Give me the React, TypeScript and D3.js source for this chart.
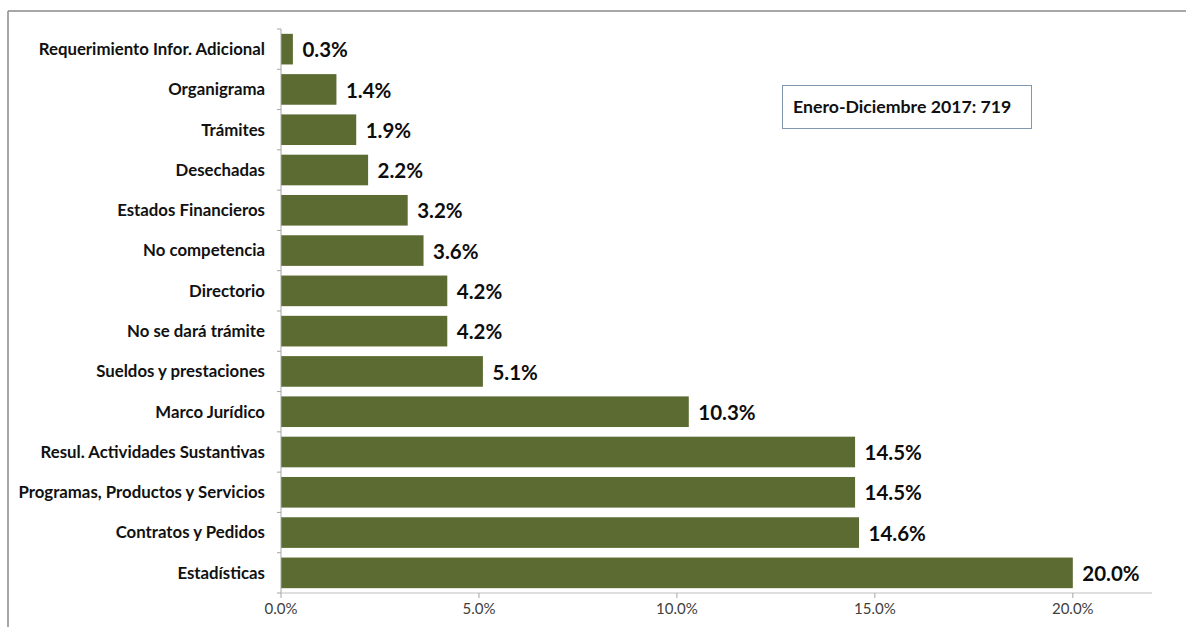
import React from "react";
import * as d3 from "d3";

const categories = [
  "Requerimiento Infor. Adicional",
  "Organigrama",
  "Trámites",
  "Desechadas",
  "Estados Financieros",
  "No competencia",
  "Directorio",
  "No se dará trámite",
  "Sueldos y prestaciones",
  "Marco Jurídico",
  "Resul. Actividades Sustantivas",
  "Programas, Productos y Servicios",
  "Contratos y Pedidos",
  "Estadísticas",
];
const values = [0.3, 1.4, 1.9, 2.2, 3.2, 3.6, 4.2, 4.2, 5.1, 10.3, 14.5, 14.5, 14.6, 20.0];
const xTicks = [0, 5, 10, 15, 20];
const legendText = "Enero-Diciembre 2017: 719";

export default function App() {
  const W = 1186, H = 627;
  const x = d3.scaleLinear().domain([0, 22]).range([281, 1152]);
  const y = d3.scaleBand().domain(categories).range([29, 593]).paddingInner(0.24).paddingOuter(0.12);
  const font = "Lato, 'Open Sans', sans-serif";
  const bounds = d3.range(categories.length + 1).map((i) => 29 + (i * (593 - 29)) / categories.length);
  return (
    <svg width={W} height={H} style={{ position: "absolute", left: 0, top: 0 }} fontFamily={font}>
      <rect x={0} y={0} width={W} height={H} fill="#fff" />
      <line x1={8} y1={11} x2={W} y2={11} stroke="#8a8a8a" strokeWidth={1.5} />
      <line x1={8} y1={11} x2={8} y2={H} stroke="#8a8a8a" strokeWidth={1.5} />
      {categories.map((c, i) => (
        <g key={c}>
          <rect x={x(0)} y={y(c)!} width={x(values[i]) - x(0)} height={y.bandwidth()} fill="#5b6b31" />
          <text x={265} y={y(c)! + y.bandwidth() / 2} dy="0.35em" textAnchor="end" fontSize={16.8} fontWeight="bold" fill="#111">
            {c}
          </text>
          <text x={x(values[i]) + 9.5} y={y(c)! + y.bandwidth() / 2 + 1} dy="0.35em" fontSize={20.5} fontWeight="bold" fill="#0d0d0d">
            {d3.format(".1f")(values[i]) + "%"}
          </text>
        </g>
      ))}
      {bounds.map((b, i) => (
        <line key={"yt" + i} x1={277} x2={281} y1={b} y2={b} stroke="#a6a6a6" />
      ))}
      <line x1={281} x2={281} y1={29} y2={593} stroke="#a6a6a6" />
      <line x1={281} x2={1152} y1={593} y2={593} stroke="#bfbfbf" strokeWidth={1.2} />
      {xTicks.map((t) => (
        <g key={t}>
          <line x1={x(t)} x2={x(t)} y1={593} y2={598} stroke="#a6a6a6" />
          <text x={x(t)} y={609} dy="0.35em" textAnchor="middle" fontSize={15} fill="#404040">
            {d3.format(".1f")(t) + "%"}
          </text>
        </g>
      ))}
      <rect x={782.5} y={85.5} width={249} height={43} fill="#fff" stroke="#7f97b0" />
      <text x={793} y={107} dy="0.35em" fontSize={17.7} fontWeight="bold" fill="#111">
        {legendText}
      </text>
    </svg>
  );
}
